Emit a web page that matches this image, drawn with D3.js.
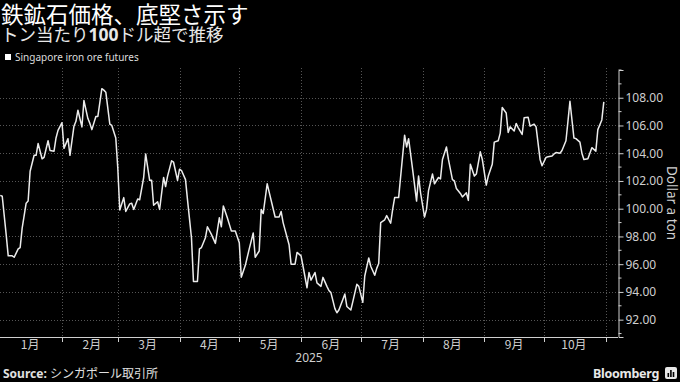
<!DOCTYPE html>
<html><head><meta charset="utf-8">
<script src="https://cdn.jsdelivr.net/npm/d3@7"></script>
<style>
html,body{margin:0;padding:0;background:#000;}
svg{display:block;}
text{font-family:"Noto Sans","Noto Sans CJK JP",sans-serif;}
</style></head>
<body>
<svg id="chart" width="680" height="382"></svg>
<script>
const title = "鉄鉱石価格、底堅さ示す";
const subtitleParts = ["トン当たり", "100", "ドル超で推移"];
const legendLabel = "Singapore iron ore futures";
const yAxisTitle = "Dollar a ton";
const yearLabel = "2025";
const monthLabels = ["1月","2月","3月","4月","5月","6月","7月","8月","9月","10月"];
const yTicks = [92,94,96,98,100,102,104,106,108];
const sourceLabel = "Source:";
const sourceText = "シンガポール取引所";

const dates = [
"01-01","01-02","01-04","01-05","01-07","01-08","01-10","01-11","01-12","01-14","01-15","01-16","01-18","01-19","01-20","01-22","01-23","01-25","01-26","01-28","01-29","01-30",
"02-01","02-02","02-04","02-05","02-07","02-08","02-09","02-11","02-12","02-14","02-15","02-16","02-18","02-19","02-21","02-22","02-23","02-25","02-26","02-28",
"03-01","03-02","03-04","03-05","03-07","03-08","03-09","03-11","03-12","03-14","03-15","03-17","03-18","03-19","03-21","03-22","03-24","03-25","03-26","03-28","03-29","03-31",
"04-01","04-02","04-04","04-05","04-07","04-08","04-10","04-11","04-12","04-14","04-15","04-17","04-19","04-21","04-22","04-23","04-25","04-27","04-28","04-29",
"05-01","05-02","05-04","05-06","05-08","05-09","05-11","05-12","05-13","05-15","05-16","05-18","05-19","05-21","05-22","05-23","05-26","05-27","05-29","05-30",
"06-01","06-02","06-04","06-05","06-06","06-08","06-09","06-11","06-12","06-14","06-15","06-16","06-18","06-19","06-20","06-22","06-23","06-24","06-26","06-27","06-29","06-30",
"07-02","07-03","07-05","07-06","07-08","07-09","07-10","07-11","07-13","07-14","07-16","07-17","07-18","07-20","07-23","07-24","07-25","07-27","07-29","07-30","07-31",
"08-02","08-03","08-04","08-06","08-07","08-09","08-10","08-11","08-13","08-14","08-16","08-17","08-18","08-20","08-21","08-23","08-24","08-25","08-27","08-28","08-30","08-31",
"09-02","09-03","09-05","09-06","09-08","09-09","09-10","09-12","09-13","09-14","09-16","09-17","09-18","09-20","09-21","09-23","09-24","09-26","09-27","09-29","09-30",
"10-02","10-03","10-05","10-06","10-07","10-09","10-10","10-12","10-13","10-14","10-16","10-17","10-19","10-20","10-21","10-23","10-24","10-25","10-27","10-28","10-30","10-31"
];
const prices = [
100.96,100.9,98.1,96.6,96.6,96.5,97.1,97.2,98.6,100.4,100.55,102.7,103.85,103.85,104.7,103.6,103.7,104.9,104.2,104.15,105.1,105.65,
106.2,104.35,105.05,103.85,105.95,106.3,107.1,105.9,107.8,106.5,106.15,105.7,106.65,106.65,108.65,108.55,108.4,106.1,106.0,105.1,
102.95,99.9,100.8,99.8,100.35,100.4,99.95,100.7,100.65,102.25,103.95,102.05,102.05,100.25,100.5,99.95,102.25,101.6,102.35,103.45,103.35,102.05,
102.85,102.75,102.1,100.65,97.9,94.75,94.75,97.1,97.2,97.9,98.7,98.15,97.5,99.35,98.7,100.2,99.35,98.4,98.4,98.4,
97.55,95.06,95.9,97.1,98.25,96.5,96.95,99.95,99.65,101.8,101.2,100.0,99.4,99.4,99.8,99.0,97.4,96.0,96.0,96.85,
96.6,95.85,94.3,95.4,94.85,95.4,94.65,94.4,95.05,94.4,94.1,93.95,92.8,92.5,92.7,93.45,93.85,92.95,92.7,93.3,94.55,94.4,
93.25,95.15,96.45,95.85,95.2,95.7,96.05,99.0,99.2,99.5,98.95,99.95,100.8,100.8,105.3,104.45,105.05,102.85,100.55,102.35,101.15,
99.4,99.95,101.3,102.5,101.8,102.25,102.15,103.55,104.45,103.55,102.1,102.0,101.45,101.1,100.85,101.15,100.6,103.2,102.35,102.5,104.1,103.55,
101.7,102.35,103.2,104.8,104.9,105.45,107.3,106.9,105.5,105.9,105.6,106.15,105.85,105.35,106.55,106.6,105.95,106.1,105.9,103.55,103.1,
103.7,103.75,103.8,103.95,104.05,104.0,104.2,104.9,106.3,107.75,105.1,105.05,104.8,104.0,103.55,103.6,104.0,104.4,104.15,105.7,106.4,107.7
];

const parse = d3.utcParse("%Y-%m-%d");
const data = dates.map((d,i)=>({date: parse(yearLabel + "-" + d), value: prices[i]}));

const svg = d3.select("#chart");
const W = 680, H = 382;
svg.append("rect").attr("width",W).attr("height",H).attr("fill","#000");

const plotLeft = 0.25, plotRight = 618, plotTop = 70, plotBottom = 337;
const x = d3.scaleUtc()
  .domain([new Date(Date.UTC(2025,0,1)), new Date(Date.UTC(2025,10,1))])
  .range([plotLeft, 605.8]);
const y = d3.scaleLinear().domain([90.75, 110]).range([plotBottom, plotTop]);

const gridColor = "#555";
svg.append("g").selectAll("line").data(yTicks).join("line")
  .attr("x1", 0).attr("x2", plotRight)
  .attr("y1", d=>Math.round(y(d))+0.5).attr("y2", d=>Math.round(y(d))+0.5)
  .attr("stroke", gridColor).attr("stroke-width",1).attr("stroke-dasharray","1,2");

const monthStarts = d3.utcMonth.range(new Date(Date.UTC(2025,1,1)), new Date(Date.UTC(2025,10,2)));
svg.append("g").selectAll("line").data(monthStarts).join("line")
  .attr("x1", d=>Math.round(x(d))+0.5).attr("x2", d=>Math.round(x(d))+0.5)
  .attr("y1", plotTop-2).attr("y2", plotBottom)
  .attr("stroke", gridColor).attr("stroke-width",1).attr("stroke-dasharray","1,2");

const axisColor = "#cfcfcf";
const xg = svg.append("g");
xg.append("line").attr("x1",0).attr("x2",plotRight).attr("y1",plotBottom+0.5).attr("y2",plotBottom+0.5)
  .attr("stroke",axisColor).attr("stroke-width",1);
xg.selectAll("line.tk").data(monthStarts).join("line").attr("class","tk")
  .attr("x1", d=>Math.round(x(d))+0.5).attr("x2", d=>Math.round(x(d))+0.5)
  .attr("y1", plotBottom).attr("y2", plotBottom+5)
  .attr("stroke",axisColor);
const monthMids = d3.utcMonth.range(new Date(Date.UTC(2025,0,1)), new Date(Date.UTC(2025,10,1)))
  .map(d=>d3.utcDay.offset(d,15));
xg.selectAll("text").data(monthMids).join("text")
  .attr("x", d=>x(d)).attr("y", 349)
  .attr("text-anchor","middle").attr("fill",axisColor).attr("font-size",12)
  .style("font-family",'"Noto Sans CJK JP",sans-serif')
  .text((d,i)=>monthLabels[i]);
svg.append("text").attr("x", 309).attr("y", 362).attr("text-anchor","middle")
  .attr("fill",axisColor).attr("font-size",12).text(yearLabel);

const yAxis = d3.axisRight(y).tickValues(yTicks).tickFormat(d3.format(".2f")).tickSize(5).tickPadding(2);
const yg = svg.append("g").attr("transform",`translate(${plotRight+0.5},0)`).call(yAxis);
yg.select(".domain").attr("stroke",axisColor);
yg.selectAll(".tick line").attr("stroke",axisColor);
yg.selectAll(".tick text").attr("fill",axisColor).attr("font-size",12)
  .style("font-family",'"Noto Sans",sans-serif');
const minorTicks = d3.range(91, 111, 1).filter(v=>!yTicks.includes(v));
yg.selectAll("line.minor").data(minorTicks).join("line").attr("class","minor")
  .attr("x1",0).attr("x2",3).attr("y1",d=>y(d)).attr("y2",d=>y(d)).attr("stroke",axisColor);

svg.append("text").attr("transform","translate(667,203) rotate(90)")
  .attr("text-anchor","middle").attr("fill",axisColor).attr("font-size",13.5).text(yAxisTitle);

const line = d3.line().x(d=>x(d.date)).y(d=>y(d.value));
svg.append("path").datum(data).attr("d", line)
  .attr("fill","none").attr("stroke","#ececec").attr("stroke-width",1.5).attr("stroke-linejoin","round");

svg.append("text").attr("x",1).attr("y",22.5).attr("fill","#fff").attr("font-size",22.5)
  .style("font-family",'"Noto Sans CJK JP",sans-serif').text(title);
const st = svg.append("text").attr("x",1).attr("y",40.5).attr("fill","#e8e8e8").attr("font-size",17.5)
  .style("font-family",'"Noto Sans CJK JP",sans-serif');
st.append("tspan").text(subtitleParts[0]);
st.append("tspan").attr("font-weight","bold").style("font-family",'"Noto Sans",sans-serif').text(subtitleParts[1]);
st.append("tspan").text(subtitleParts[2]);

svg.append("rect").attr("x",5).attr("y",54).attr("width",6).attr("height",6).attr("fill","#fff");
svg.append("text").attr("x",15).attr("y",61).attr("fill","#dcdcdc").attr("font-size",10).text(legendLabel);

const ft = svg.append("text").attr("x",3).attr("y",378).attr("fill","#e0e0e0").attr("font-size",12);
ft.append("tspan").attr("font-weight","bold").text(sourceLabel + " ");
ft.append("tspan").style("font-family",'"Noto Sans CJK JP",sans-serif').text(sourceText);
svg.append("text").attr("x",659).attr("y",378).attr("text-anchor","end").attr("fill","#e8e8e8")
  .attr("font-size",12.5).attr("font-weight","bold").attr("letter-spacing",-0.3).text("Bloomberg");
svg.append("rect").attr("x",665).attr("y",367).attr("width",12).attr("height",12).attr("rx",2).attr("fill","#e8e8e8");
const bars = [4,7,5];
svg.append("g").selectAll("rect").data(bars).join("rect")
  .attr("x",(d,i)=>667.5+i*2.6).attr("y",d=>377-d).attr("width",1.6).attr("height",d=>d).attr("fill","#000");
</script>
</body></html>
